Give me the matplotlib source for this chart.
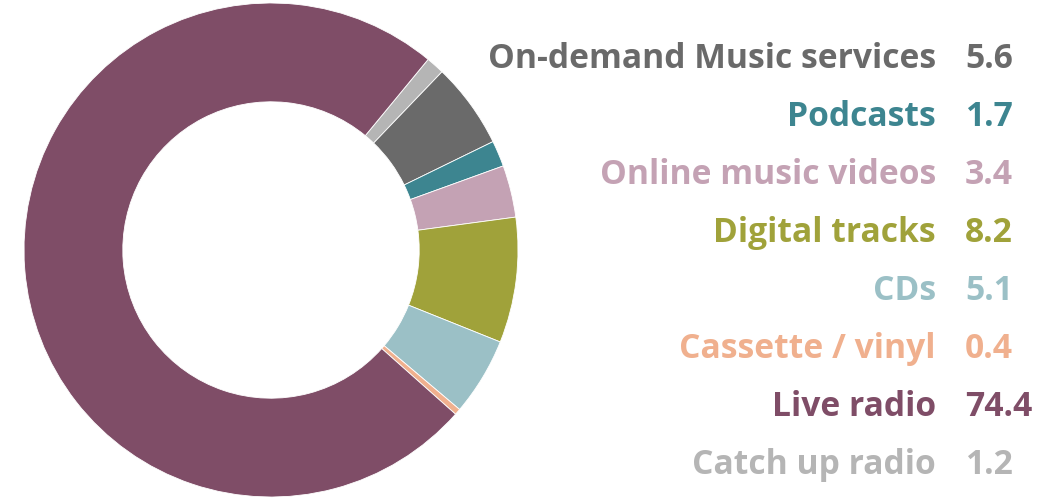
import matplotlib
matplotlib.use("Agg")
import matplotlib.pyplot as plt

# Data (clockwise from top-right)
categories = ["Catch up radio", "On-demand Music services", "Podcasts", "Online music videos",
              "Digital tracks", "CDs", "Cassette / vinyl", "Live radio"]
values = [1.2, 5.6, 1.7, 3.4, 8.2, 5.1, 0.4, 74.4]
colors = ["#b5b5b5", "#6a6a6a", "#3d8590", "#c4a2b4", "#a0a23a", "#9bc0c6", "#f0b08e", "#7f4d67"]
value_labels = ["1.2", "5.6", "1.7", "3.4", "8.2", "5.1", "0.4", "74.4"]

# Legend order (top to bottom)
legend_order = ["On-demand Music services", "Podcasts", "Online music videos", "Digital tracks",
                "CDs", "Cassette / vinyl", "Live radio", "Catch up radio"]

W, H = 1052, 500
fig = plt.figure(figsize=(W / 100, H / 100), dpi=100)
fig.patch.set_facecolor("white")

cx, cy, r = 271, 250, 247
ax = fig.add_axes([(cx - r) / W, (H - cy - r) / H, 2 * r / W, 2 * r / H])
ax.pie(values, colors=colors, startangle=50.5, counterclock=False, radius=1,
       wedgeprops=dict(width=0.4, edgecolor="white", linewidth=0.6))
ax.set_xlim(-1, 1)
ax.set_ylim(-1, 1)
ax.set_aspect("equal")
ax.axis("off")

font = ["Open Sans", "DejaVu Sans"]
y0, dy = 68.5, 58.0
for i, name in enumerate(legend_order):
    idx = categories.index(name)
    y = 1 - (y0 + i * dy) / H
    fig.text(936 / W, y, name, ha="right", va="baseline", fontsize=24.2, fontweight="bold",
             color=colors[idx], family=font)
    fig.text(965 / W, y, value_labels[idx], ha="left", va="baseline", fontsize=24.2,
             fontweight="bold", color=colors[idx], family=font)

fig.savefig("out.png", dpi=100, facecolor="white")
